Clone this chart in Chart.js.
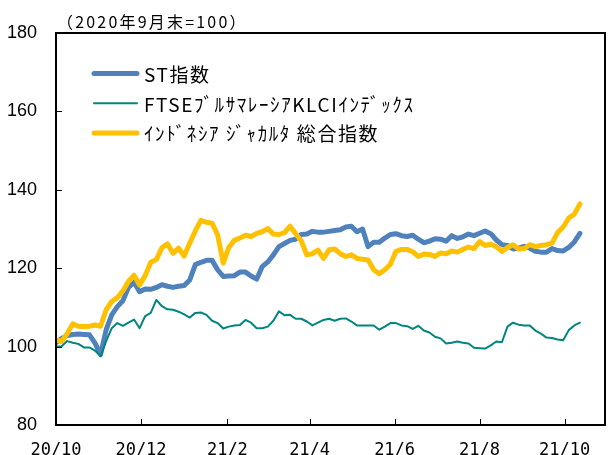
<!DOCTYPE html>
<html>
<head>
<meta charset="utf-8">
<script src="https://cdn.jsdelivr.net/npm/chart.js@4/dist/chart.umd.min.js"></script>
<style>
  html, body { margin: 0; padding: 0; background: #fff; }
  #wrap { width: 612px; height: 455px; }
</style>
</head>
<body>
<div id="wrap"><canvas id="chart" width="612" height="455"></canvas></div>
<script>
// days counted from 2020-10-01
const days = [0, 4, 8, 12, 16, 20, 24, 28, 32, 36, 40, 44, 48, 52, 56, 60, 64, 68, 72, 76,
  80, 84, 88, 92, 96, 100, 104, 108, 112, 116, 120, 124, 128, 132, 136, 140, 144, 148, 152, 156,
  160, 164, 168, 172, 176, 180, 184, 188, 192, 196, 200, 204, 208, 212, 216, 220, 224, 228, 232, 236,
  240, 244, 248, 252, 256, 260, 264, 268, 272, 276, 280, 284, 288, 292, 296, 300, 304, 308, 312, 316,
  320, 324, 328, 332, 336, 340, 344, 348, 352, 356, 360, 364, 368, 372, 376];

const stIndex = [101.0, 102.1, 102.8, 103.1, 103.2, 103.1, 103.0, 100.9, 98.0, 104.3,
  108.1, 110.2, 111.7, 115.1, 116.4, 114.0, 114.7, 114.6, 115.1, 115.8,
  115.4, 115.1, 115.4, 115.6, 117.0, 120.9, 121.5, 122.0, 122.0, 119.6,
  117.9, 118.0, 118.1, 119.0, 119.0, 118.0, 117.2, 120.4, 121.6, 123.4,
  125.5, 126.3, 127.1, 127.4, 128.6, 128.7, 129.4, 129.2, 129.2, 129.4,
  129.6, 129.8, 130.5, 130.7, 129.3, 130.0, 125.5, 126.6, 126.6, 127.7,
  128.6, 128.8, 128.3, 128.1, 128.4, 127.4, 126.5, 126.9, 127.5, 127.4,
  126.9, 128.3, 127.6, 128.0, 128.7, 128.3, 128.9, 129.5, 128.8, 127.2,
  126.0, 125.8, 124.9, 125.1, 125.6, 125.1, 124.3, 124.1, 124.1, 125.0,
  124.5, 124.4, 125.3, 126.7, 128.9];

const klci = [100.0, 100.1, 101.4, 101.0, 100.7, 99.8, 99.8, 99.0, 97.5, 101.4,
  104.7, 106.0, 105.3, 106.1, 106.9, 104.7, 107.8, 108.6, 111.9, 110.3,
  109.5, 109.4, 108.9, 108.2, 107.4, 108.6, 108.7, 108.1, 106.6, 106.0,
  104.6, 105.1, 105.4, 105.5, 106.8, 106.1, 104.7, 104.7, 105.1, 106.6,
  109.0, 108.0, 108.1, 107.1, 107.1, 106.4, 105.4, 106.1, 106.8, 107.1,
  106.6, 107.1, 107.2, 106.4, 105.4, 105.4, 105.4, 105.4, 104.3, 105.1,
  106.0, 106.0, 105.4, 105.2, 104.5, 105.3, 104.1, 103.6, 102.5, 102.1,
  100.8, 101.0, 101.3, 101.0, 100.8, 99.7, 99.6, 99.5, 100.3, 101.3,
  101.1, 105.1, 106.1, 105.6, 105.4, 105.4, 104.1, 103.3, 102.3, 102.2,
  101.8, 101.6, 104.2, 105.4, 106.1];

const jakarta = [101.7, 101.3, 103.3, 105.8, 105.2, 105.1, 105.2, 105.5, 105.2, 109.4,
  111.5, 112.5, 114.2, 116.6, 118.2, 115.7, 118.1, 121.5, 122.2, 125.2,
  126.2, 123.8, 125.1, 123.1, 126.4, 129.5, 132.2, 131.7, 131.5, 128.5,
  121.3, 125.3, 127.1, 127.7, 128.4, 128.1, 128.9, 129.3, 130.1, 128.7,
  128.6, 129.1, 130.7, 128.8, 127.0, 123.4, 123.7, 124.6, 122.5, 124.7,
  124.9, 123.7, 123.0, 123.4, 122.5, 122.3, 122.1, 119.6, 118.6, 119.6,
  121.0, 124.3, 124.8, 124.8, 124.2, 123.0, 123.6, 123.5, 123.0, 123.9,
  123.7, 124.4, 124.1, 124.8, 125.4, 125.0, 126.8, 125.8, 126.1, 125.5,
  124.3, 125.3, 126.0, 124.9, 125.0, 126.0, 125.5, 125.8, 126.0, 126.4,
  129.1, 130.5, 132.8, 133.8, 136.4];

const seriesNames = ['ST指数', 'FTSEﾌﾞﾙｻﾏﾚｰｼｱKLCIｲﾝﾃﾞｯｸｽ', 'ｲﾝﾄﾞﾈｼｱ ｼﾞｬｶﾙﾀ 総合指数'];
const tickDays = [0, 61, 123, 182, 243, 304, 365];
const tickLabels = ['20/10', '20/12', '21/2', '21/4', '21/6', '21/8', '21/10'];
const noteText = '（2020年9月末=100）';

function toPoints(vals) {
  return vals.map((v, i) => ({ x: days[i], y: v }));
}

// frame, inward ticks, note and legend drawn inside the plot
const framePlugin = {
  id: 'framePlugin',
  afterDatasetsDraw(chart) {
    const { ctx, chartArea: a, scales } = chart;
    ctx.save();
    ctx.strokeStyle = '#000';
    ctx.lineWidth = 1;
    ctx.beginPath();
    tickDays.forEach(d => {
      const px = Math.round(scales.x.getPixelForValue(d)) + 0.5;
      ctx.moveTo(px, a.bottom);
      ctx.lineTo(px, a.bottom - 6);
    });
    scales.y.ticks.forEach(t => {
      const py = Math.round(scales.y.getPixelForValue(t.value)) + 0.5;
      ctx.moveTo(a.left, py);
      ctx.lineTo(a.left + 6, py);
    });
    ctx.stroke();
    ctx.lineWidth = 2;
    ctx.strokeRect(a.left, a.top, a.right - a.left, a.bottom - a.top);

    ctx.fillStyle = '#000';
    ctx.textBaseline = 'middle';
    ctx.textAlign = 'left';
    ctx.font = '16px "Noto Sans CJK JP"';
    ctx.letterSpacing = '2.2px';
    ctx.fillText(noteText, a.left + 1, a.top - 11);

    ctx.font = '19px "Noto Sans CJK JP"';
    ctx.letterSpacing = '1.6px';
    chart.data.datasets.forEach((ds, i) => {
      const y = a.top + 40.5 + i * 29.8;
      ctx.strokeStyle = ds.borderColor;
      ctx.lineWidth = ds.borderWidth;
      ctx.lineCap = 'round';
      ctx.beginPath();
      ctx.moveTo(a.left + 38, y);
      ctx.lineTo(a.left + 81, y);
      ctx.stroke();
      ctx.fillText(ds.label, a.left + 88, y + 1);
    });
    ctx.restore();
  }
};

new Chart(document.getElementById('chart'), {
  type: 'line',
  data: {
    datasets: [
      {
        label: seriesNames[0],
        data: toPoints(stIndex),
        borderColor: '#4F81BD',
        borderWidth: 5,
        order: 2
      },
      {
        label: seriesNames[1],
        data: toPoints(klci),
        borderColor: '#00857F',
        borderWidth: 2,
        order: 1
      },
      {
        label: seriesNames[2],
        data: toPoints(jakarta),
        borderColor: '#FFC000',
        borderWidth: 5,
        order: 0
      }
    ]
  },
  options: {
    responsive: false,
    animation: false,
    events: [],
    layout: { padding: { top: 33, right: 7, left: 0, bottom: 0 } },
    elements: {
      point: { radius: 0 },
      line: { tension: 0, borderJoinStyle: 'round', borderCapStyle: 'round' }
    },
    plugins: {
      legend: { display: false },
      tooltip: { enabled: false },
      title: { display: false }
    },
    scales: {
      x: {
        type: 'linear',
        min: 0,
        max: 394,
        grid: { display: false, drawTicks: false },
        border: { display: false },
        afterBuildTicks: s => { s.ticks = tickDays.map(v => ({ value: v })); },
        afterFit: s => { s.height = 30; },
        ticks: {
          autoSkip: false,
          maxRotation: 0,
          padding: 15,
          color: '#000',
          font: { family: '"DejaVu Sans Mono"', size: 17 },
          callback: (v, i) => tickLabels[i]
        }
      },
      y: {
        min: 80,
        max: 180,
        grid: { display: false, drawTicks: false },
        border: { display: false },
        afterFit: s => { s.width = 56; },
        ticks: {
          stepSize: 20,
          padding: 19,
          color: '#000',
          font: { family: '"Liberation Sans"', size: 18 }
        }
      }
    }
  },
  plugins: [framePlugin]
});
</script>
</body>
</html>
